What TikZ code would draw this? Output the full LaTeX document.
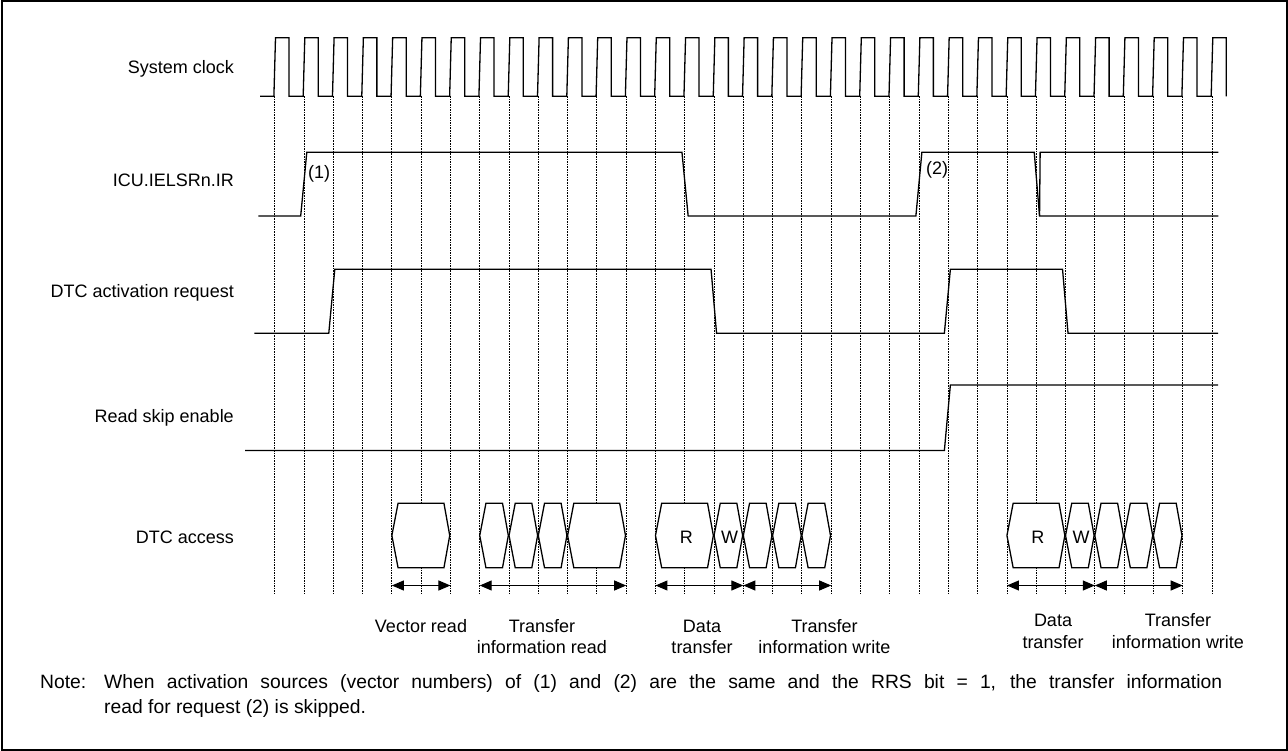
\documentclass[tikz,border=0pt]{standalone}
\usepackage{fontspec}
\setmainfont{Liberation Sans}
\usetikzlibrary{arrows.meta}
\def\X#1{(274.7+29.29*(#1))}
\begin{document}
\begin{tikzpicture}[x=1pt,y=-1pt,
  sig/.style={line width=1.3pt, line join=miter},
  gridline/.style={line width=0.9pt, dash pattern=on 1.6pt off 1pt},
  lbl/.style={font=\fontsize{18}{21}\selectfont, inner sep=0pt, anchor=base east},
  captext/.style={font=\fontsize{18}{21.5}\selectfont, inner sep=0pt, anchor=base, align=center},
  hexa/.style={line width=1.3pt, fill=white, line join=miter},
  spanarrow/.style={line width=1.1pt, {Triangle[length=12pt,width=10pt]}-{Triangle[length=12pt,width=10pt]}},
  notestyle/.style={font=\fontsize{19.3}{25}\selectfont, inner sep=0pt, anchor=base west, align=left}
]
\useasboundingbox (0,0) rectangle (1288,751);
\draw[line width=2pt] (1.5,1.5) rectangle (1286.5,749.5);

% signal names
\node[lbl] (lclk) at (234,73.3) {System clock};
\node[lbl] (licu) at (234,187) {ICU.IELSRn.IR};
\node[lbl] (ldtc) at (234,298) {DTC activation request};
\node[lbl] (lrs)  at (234,422.7) {Read skip enable};
\node[lbl] (lacc) at (234,543.3) {DTC access};

% clock grid
\foreach \k in {0,...,32}
  \draw[gridline] ({\X{\k}},96.3) -- ({\X{\k}},594);

% system clock
\draw[sig] (260,96.3) foreach \k in {0,...,32} {
  -- ({\X{\k}-0.8},96.3) -- ({\X{\k}+0.8},37.7) -- ({\X{\k}+14.3},37.7) -- ({\X{\k}+14.3},96.3) };

% ICU.IELSRn.IR
\draw[sig] (258.3,216) -- ({\X{1}-3.3},216) -- ({\X{1}+2.8},152.3) -- ({\X{14}-2.8},152.3)
  -- ({\X{14}+3.4},216) -- ({\X{22}-3.2},216) -- ({\X{22}+2.8},152.3) -- ({\X{26}-2},152.3)
  -- ({\X{26}+3.3},216) -- (1218.3,216);
\draw[sig] (1218.3,152.3) -- ({\X{26}+3.9},152.3) -- ({\X{26}+3.3},216);
\node[font=\fontsize{18}{21}\selectfont, inner sep=0pt, anchor=base west] (n1) at (308,179) {(1)};
\node[font=\fontsize{18}{21}\selectfont, inner sep=0pt, anchor=base west] (n2) at (926,175) {(2)};

% DTC activation request
\draw[sig] (254.3,333.3) -- ({\X{2}-4.5},333.3) -- ({\X{2}+1.5},269.3) -- ({\X{15}-3},269.3)
  -- ({\X{15}+2.5},333.3) -- ({\X{23}-4},333.3) -- ({\X{23}+2},269.3) -- ({\X{27}-3},269.3)
  -- ({\X{27}+2.5},333.3) -- (1218,333.3);

% Read skip enable
\draw[sig] (245,450.5) -- ({\X{23}-4},450.5) -- ({\X{23}+2},385) -- (1218,385);

% DTC access
\foreach \a/\b in {4/6,7/8,8/9,9/10,10/12,13/15,15/16,16/17,17/18,18/19,25/27,27/28,28/29,29/30,30/31}
  \draw[hexa] ({\X{\a}},535.5) -- ({\X{\a}+6.2},503.3) -- ({\X{\b}-6.5},503.3) -- ({\X{\b}-0.7},535.5)
    -- ({\X{\b}-6.5},567.7) -- ({\X{\a}+6.2},567.7) -- cycle;
\node[captext] (r1) at ({\X{14}+1.5},543.3) {R};
\node[captext] (w1) at ({\X{15.5}+1},543.3) {W};
\node[captext] (r2) at ({\X{26}+1.5},543.3) {R};
\node[captext] (w2) at ({\X{27.5}+1},543.3) {W};

% spans
\coordinate (a4) at ({\X{4}},585.5);
\coordinate (a6) at ({\X{6}},585.5);
\coordinate (a7) at ({\X{7}},585.5);
\coordinate (a12) at ({\X{12}},585.5);
\coordinate (a13) at ({\X{13}},585.5);
\coordinate (a16) at ({\X{16}},585.5);
\coordinate (a19) at ({\X{19}},585.5);
\coordinate (a25) at ({\X{25}},585.5);
\coordinate (a28) at ({\X{28}},585.5);
\coordinate (a31) at ({\X{31}},585.5);
\draw[spanarrow] (a4) -- (a6);
\draw[spanarrow] (a7) -- (a12);
\draw[spanarrow] (a13) -- (a16);
\draw[spanarrow] (a16) -- (a19);
\draw[spanarrow] (a25) -- (a28);
\draw[spanarrow] (a28) -- (a31);

% span captions (anchor base = baseline of the last line)
\node[captext] (cvr) at (421,632) {Vector read};
\node[captext] (ctir) at (542,653.5) {Transfer\\information read};
\node[captext] (cdt1) at (702,653.5) {Data\\transfer};
\node[captext] (ctiw1) at (824.5,653.5) {Transfer\\information write};
\node[captext] (cdt2) at (1053,648) {Data\\transfer};
\node[captext] (ctiw2) at (1178,648) {Transfer\\information write};

% note
\node[notestyle] (nl) at (40,688) {Note:};
\node[notestyle] (nt) at (104,713) {\makebox[1118pt][s]{When activation sources (vector numbers) of (1) and (2) are the same and the RRS bit = 1, the transfer information}\\read for request (2) is skipped.};
\end{tikzpicture}
\end{document}
